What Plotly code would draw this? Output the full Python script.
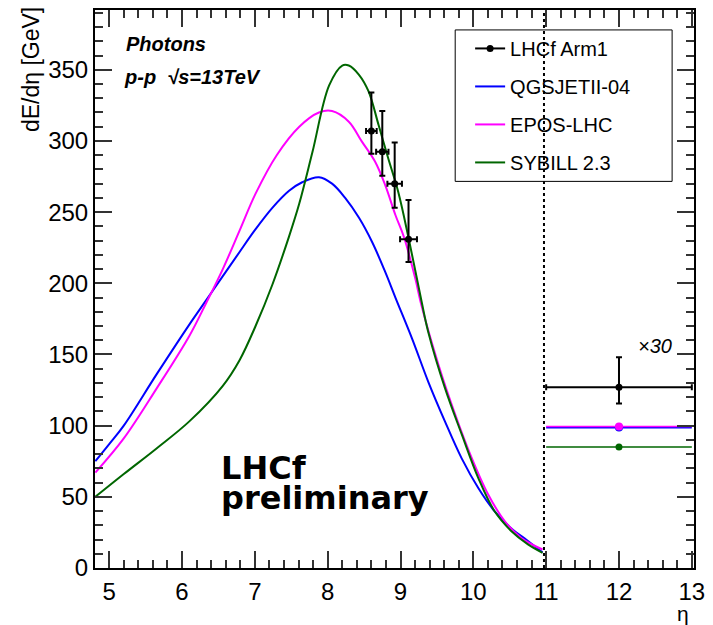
import plotly.graph_objects as go

# ---------------- data ----------------
eta_qgs = [4.81, 5.0, 5.2, 5.65, 6.1, 6.33, 6.56, 6.79, 7.01, 7.24, 7.47, 7.65, 7.88,
           8.06, 8.24, 8.43, 8.61, 8.79, 8.93, 9.16, 9.38, 9.61, 9.84, 10.07, 10.29,
           10.52, 10.75, 10.95]
dE_qgs = [75, 87, 100, 136, 171, 188, 205, 222, 238, 253, 265, 271, 274.5,
          270, 260, 246, 229, 208, 190, 161, 131, 103, 77, 56, 40,
          28, 19, 11]

eta_epos = [4.81, 5.2, 5.65, 6.1, 6.33, 6.56, 6.79, 7.01, 7.3, 7.61, 7.88, 8.06, 8.29,
            8.47, 8.65, 8.79, 8.93, 9.05, 9.2, 9.29, 9.52, 9.75, 9.98, 10.2, 10.43,
            10.66, 10.95]
dE_epos = [67, 91, 126, 163, 186, 210, 237, 263, 290, 310, 320, 321, 313.5,
           299.5, 285.5, 269, 248, 232, 204, 184, 143, 108, 77, 52, 33,
           21, 13]

eta_sib = [4.81, 5.2, 5.65, 6.1, 6.56, 6.79, 7.01, 7.24, 7.47, 7.61, 7.79, 8.02, 8.2,
           8.29, 8.43, 8.56, 8.7, 8.83, 8.97, 9.11, 9.29, 9.38, 9.61, 9.84, 10.07,
           10.29, 10.52, 10.75, 10.95]
dE_sib = [50, 66, 84, 103, 128, 146, 170, 199, 233, 256, 292, 339, 353,
          353, 346.5, 335, 311, 288, 264, 232, 187, 166, 126.5, 94, 63,
          40, 26, 16.6, 10.7]

lhcf_eta = [8.60, 8.75, 8.92, 9.11]
lhcf_dE = [307, 292.5, 270, 231]
lhcf_err_up = [27, 28.5, 29, 27.6]
lhcf_err_dn = [16, 17, 17, 16]
lhcf_eta_err = [0.073, 0.085, 0.10, 0.116]

# integrated region (eta > 11), scaled x30
high_eta = [12.0]
high_eta_halfwidth = [1.0]
lhcf_high = [127]
lhcf_high_err_up = [21]
lhcf_high_err_dn = [11.5]
qgs_high = [98.7]
epos_high = [99.4]
sib_high = [85]

divider_eta = 10.97

BLUE = "#0000ff"
MAGENTA = "#ff00ff"
GREEN = "#006600"
BLACK = "#000000"
TICK = "#333333"

# ---------------- figure ----------------
fig = go.Figure()

fig.add_trace(go.Scatter(x=[None], y=[None], mode="lines+markers", name="LHCf Arm1",
                         line=dict(color=BLACK, width=2), marker=dict(color=BLACK, size=7),
                         legendgroup="a", showlegend=True))
fig.add_trace(go.Scatter(x=eta_qgs, y=dE_qgs, mode="lines", name="QGSJETII-04",
                         line=dict(color=BLUE, width=2, shape="spline", smoothing=1.0),
                         legendgroup="b"))
fig.add_trace(go.Scatter(x=eta_epos, y=dE_epos, mode="lines", name="EPOS-LHC",
                         line=dict(color=MAGENTA, width=2, shape="spline", smoothing=1.0),
                         legendgroup="c"))
fig.add_trace(go.Scatter(x=eta_sib, y=dE_sib, mode="lines", name="SYBILL 2.3",
                         line=dict(color=GREEN, width=2, shape="spline", smoothing=1.0),
                         legendgroup="d"))

fig.add_trace(go.Scatter(x=high_eta, y=qgs_high, mode="markers", showlegend=False,
                         marker=dict(color=BLUE, size=8),
                         error_x=dict(type="data", array=high_eta_halfwidth, color=BLUE,
                                      thickness=2, width=0)))
fig.add_trace(go.Scatter(x=high_eta, y=epos_high, mode="markers", showlegend=False,
                         marker=dict(color=MAGENTA, size=8),
                         error_x=dict(type="data", array=high_eta_halfwidth, color=MAGENTA,
                                      thickness=1.5, width=0)))
fig.add_trace(go.Scatter(x=high_eta, y=sib_high, mode="markers", showlegend=False,
                         marker=dict(color=GREEN, size=7),
                         error_x=dict(type="data", array=high_eta_halfwidth, color=GREEN,
                                      thickness=1.5, width=0)))

fig.add_trace(go.Scatter(x=lhcf_eta, y=lhcf_dE, mode="markers", showlegend=False,
                         marker=dict(color=BLACK, size=7),
                         error_y=dict(type="data", symmetric=False, array=lhcf_err_up,
                                      arrayminus=lhcf_err_dn, color=BLACK, thickness=2, width=3),
                         error_x=dict(type="data", array=lhcf_eta_err, color=BLACK,
                                      thickness=2, width=3)))
fig.add_trace(go.Scatter(x=high_eta, y=lhcf_high, mode="markers", showlegend=False,
                         marker=dict(color=BLACK, size=7),
                         error_y=dict(type="data", symmetric=False, array=lhcf_high_err_up,
                                      arrayminus=lhcf_high_err_dn, color=BLACK, thickness=2, width=3),
                         error_x=dict(type="data", array=high_eta_halfwidth, color=BLACK,
                                      thickness=2, width=3)))

FONT = "Liberation Sans, Arial, sans-serif"

fig.update_xaxes(range=[4.805, 13.03], tickmode="linear", tick0=5, dtick=1,
                 showline=True, linecolor=BLACK, linewidth=2, mirror="allticks",
                 ticks="inside", tickcolor=TICK, tickwidth=1.5, ticklen=17,
                 showgrid=False, zeroline=False, ticklabelstandoff=1,
                 tickfont=dict(family=FONT, size=24, color=BLACK),
                 minor=dict(dtick=0.2, tick0=5, ticks="inside", ticklen=8, tickcolor=TICK,
                            tickwidth=1.5, showgrid=False))
fig.update_yaxes(range=[0, 392], tickmode="linear", tick0=0, dtick=50,
                 showline=True, linecolor=BLACK, linewidth=2, mirror="allticks",
                 ticks="inside", tickcolor=TICK, tickwidth=1.5, ticklen=17,
                 showgrid=False, zeroline=False,
                 tickfont=dict(family=FONT, size=24, color=BLACK),
                 minor=dict(dtick=10, tick0=0, ticks="inside", ticklen=8, tickcolor=TICK,
                            tickwidth=1.5, showgrid=False))

fig.add_shape(type="line", xref="x", yref="paper", x0=divider_eta, x1=divider_eta, y0=0, y1=1,
              line=dict(color=BLACK, width=2, dash="dot"))

fig.add_shape(type="rect", xref="paper", yref="paper",
              x0=(457 - 95) / 602, x1=(675 - 95) / 602,
              y0=(568 - 180) / 560, y1=(568 - 28) / 560,
              line=dict(color=BLACK, width=1), fillcolor="white", layer="below")

annos = [
    dict(text="<b><i>Photons</i></b>", x=(124 - 95) / 602, y=(568 - 42) / 560,
         xanchor="left", yanchor="middle", font=dict(family=FONT, size=20)),
    dict(text="<b><i>p-p  √s=13TeV</i></b>", x=(122 - 95) / 602, y=(568 - 75) / 560,
         xanchor="left", yanchor="middle", font=dict(family=FONT, size=20)),
    dict(text="<b>LHCf</b>", x=(220 - 95) / 602, y=(568 - 468) / 560,
         xanchor="left", yanchor="middle", font=dict(family="DejaVu Sans", size=32)),
    dict(text="<b>preliminary</b>", x=(220 - 95) / 602, y=(568 - 498) / 560,
         xanchor="left", yanchor="middle", font=dict(family="DejaVu Sans", size=32)),
    dict(text="dE/dη [GeV]", x=(30 - 95) / 602, y=(568 - 68) / 560, textangle=-90,
         xanchor="center", yanchor="middle", font=dict(family=FONT, size=23)),
    dict(text="η", x=(686 - 95) / 602, y=(568 - 627) / 560,
         xanchor="center", yanchor="bottom", font=dict(family=FONT, size=21)),
]
for a in annos:
    a.update(xref="paper", yref="paper", showarrow=False, font=dict(color=BLACK, **a["font"]))
    fig.add_annotation(**a)
fig.add_annotation(text="<i>×30</i>", x=12.49, y=155.7, xref="x", yref="y", showarrow=False,
                   font=dict(family=FONT, size=20, color=BLACK))

fig.update_layout(
    width=713, height=625,
    margin=dict(l=95, r=16, t=8, b=57),
    plot_bgcolor="white", paper_bgcolor="white",
    font=dict(family=FONT, color=BLACK),
    legend=dict(x=(472 - 95) / 602, y=(568 - 27) / 560, xanchor="left", yanchor="top",
                bgcolor="rgba(0,0,0,0)", borderwidth=0, tracegroupgap=9,
                font=dict(family=FONT, size=20, color=BLACK), itemwidth=30),
)

fig.write_html("out.html")
